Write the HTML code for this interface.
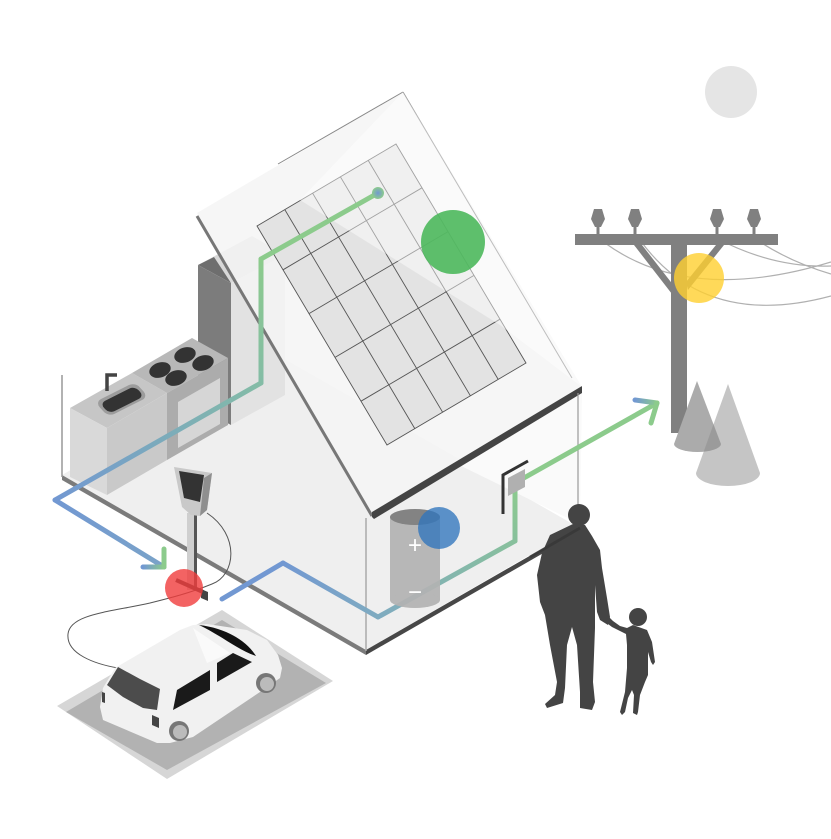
<!DOCTYPE html>
<html><head><meta charset="utf-8"><style>
html,body{margin:0;padding:0;background:#fff;}
svg{display:block;}
</style></head><body>
<svg width="831" height="839" viewBox="0 0 831 839" xmlns="http://www.w3.org/2000/svg">
<defs>
<linearGradient id="g1" gradientUnits="userSpaceOnUse" x1="261" y1="259" x2="261" y2="383"><stop offset="0" stop-color="#8ccb8c"/><stop offset="1" stop-color="#84bca6"/></linearGradient>
<linearGradient id="g2" gradientUnits="userSpaceOnUse" x1="261" y1="383" x2="55" y2="500"><stop offset="0" stop-color="#84bca6"/><stop offset="1" stop-color="#7298d2"/></linearGradient>
<linearGradient id="g3" gradientUnits="userSpaceOnUse" x1="55" y1="500" x2="164" y2="567"><stop offset="0" stop-color="#7298d2"/><stop offset="1" stop-color="#7aa3c8"/></linearGradient>
<linearGradient id="g4" gradientUnits="userSpaceOnUse" x1="143" y1="567" x2="164" y2="567"><stop offset="0" stop-color="#7298d2"/><stop offset="1" stop-color="#8ccb8c"/></linearGradient>
<linearGradient id="h1" gradientUnits="userSpaceOnUse" x1="283" y1="563" x2="378" y2="617"><stop offset="0" stop-color="#7298d2"/><stop offset="1" stop-color="#7fabc0"/></linearGradient>
<linearGradient id="h2" gradientUnits="userSpaceOnUse" x1="378" y1="617" x2="515" y2="541"><stop offset="0" stop-color="#7fabc0"/><stop offset="1" stop-color="#88c09c"/></linearGradient>
<linearGradient id="h3" gradientUnits="userSpaceOnUse" x1="515" y1="541" x2="515" y2="483"><stop offset="0" stop-color="#88c09c"/><stop offset="1" stop-color="#8ccb8c"/></linearGradient>
<linearGradient id="h4" gradientUnits="userSpaceOnUse" x1="657" y1="403" x2="635" y2="400"><stop offset="0" stop-color="#8ccb8c"/><stop offset="1" stop-color="#7298d2"/></linearGradient>
<radialGradient id="dot"><stop offset="0" stop-color="#7298d2"/><stop offset="1" stop-color="#8ccb8c"/></radialGradient>
</defs>
<rect width="831" height="839" fill="#fff"/>

<!-- moon -->
<circle cx="731" cy="92" r="26" fill="#e5e5e5"/>

<!-- power wires -->
<g fill="none" stroke="#b0b0b0" stroke-width="1.2">
<path d="M605,243 Q690,305 831,262"/>
<path d="M640,240 Q705,330 831,296"/>
<path d="M720,240 Q775,268 831,266"/>
<path d="M757,240 Q790,262 831,274"/>
</g>
<!-- pole -->
<g fill="#808080">
<rect x="575" y="234" width="203" height="11"/>
<rect x="671" y="240" width="16" height="193"/>
<path d="M634,245 L642,245 L674,286 L672,294 Z"/>
<path d="M716,245 L724,245 L688,290 L686,282 Z"/>
<path d="M594,209 L602,209 L605,219 L601,227 L595,227 L591,219 Z"/><rect x="596.5" y="226" width="3" height="9"/>
<path d="M631,209 L639,209 L642,219 L638,227 L632,227 L628,219 Z"/><rect x="633.5" y="226" width="3" height="9"/>
<path d="M713,209 L721,209 L724,219 L720,227 L714,227 L710,219 Z"/><rect x="715.5" y="226" width="3" height="9"/>
<path d="M750,209 L758,209 L761,219 L757,227 L751,227 L747,219 Z"/><rect x="752.5" y="226" width="3" height="9"/>
</g>
<circle cx="699" cy="278" r="25" fill="#ffcf30" opacity="0.8"/>
<!-- cones -->
<path d="M697,381 L674,444 A23.5,8 0 0 0 721,444 Z" fill="#ababab"/>
<path d="M728,384 L696,473 A32,13 0 0 0 760,473 Z" fill="#8c8c8c" opacity="0.5"/>

<!-- floor -->
<polygon points="62,475 274,353 578,527 366,650" fill="#efefef"/>
<polygon points="453,462 582,392 580,524" fill="#fafafa"/>
<polygon points="62,475 366,650 366,655 62,480" fill="#7b7b7b"/>
<polygon points="366,650 580,527 580,532 366,655" fill="#474747"/>
<line x1="62" y1="375" x2="62" y2="477" stroke="#999" stroke-width="1.5"/>

<!-- kitchen cabinet -->
<polygon points="198,265 231,283 231,425 198,407" fill="#7c7c7c"/>
<polygon points="198,265 252,236 285,255 231,283" fill="#d8d8d8"/>
<polygon points="198,265 214,257 231,283" fill="#6e6e6e"/>
<polygon points="231,283 285,255 285,395 231,425" fill="#e2e2e2"/>
<!-- counter -->
<polygon points="70,408 132,373 167,393 107,428" fill="#c6c6c6"/>
<polygon points="132,373 192,338 228,358 167,393" fill="#b8b8b8"/>
<polygon points="70,408 107,428 107,495 70,477" fill="#d9d9d9"/>
<polygon points="107,428 167,393 167,460 107,495" fill="#c9c9c9"/>
<polygon points="167,393 228,358 228,425 167,460" fill="#acacac"/>
<polygon points="178,402 220,378 220,424 178,448" fill="#d6d6d6"/>
<g transform="matrix(0.87,-0.435,0.667,0.744,95,402)">
<rect x="0" y="0" width="46" height="20" rx="7" fill="#9c9c9c"/>
<rect x="3" y="3.5" width="40" height="14" rx="6" fill="#333"/>
</g>
<path d="M107,391 L107,375 L117,375" fill="none" stroke="#444" stroke-width="3.5"/>
<g fill="#333">
<ellipse cx="160" cy="370" rx="11" ry="7.5" transform="rotate(-18 160 370)"/>
<ellipse cx="185" cy="355" rx="11" ry="7.5" transform="rotate(-18 185 355)"/>
<ellipse cx="176" cy="378" rx="11" ry="7.5" transform="rotate(-18 176 378)"/>
<ellipse cx="203" cy="363" rx="11" ry="7.5" transform="rotate(-18 203 363)"/>
</g>

<!-- roof -->
<polygon points="197,213 403,92 582,387 372,513" fill="#f4f4f4" opacity="0.85"/>
<line x1="278" y1="164" x2="403" y2="92" stroke="#888" stroke-width="1"/>
<line x1="403" y1="92" x2="572" y2="378" stroke="#888" stroke-width="1"/>
<line x1="197" y1="216" x2="372" y2="516" stroke="#777" stroke-width="3"/>
<polygon points="372,512 582,386 582,393 374,519 372,517" fill="#444"/>
<!-- solar grid -->
<g stroke="#555" stroke-width="0.9" fill="none">
<polygon points="257,226 396,144 526,363 387,445" fill="#e3e3e3"/>
<line x1="284.8" y1="209.6" x2="414.8" y2="428.6"/>
<line x1="312.6" y1="193.2" x2="442.6" y2="412.2"/>
<line x1="340.4" y1="176.8" x2="470.4" y2="395.8"/>
<line x1="368.2" y1="160.4" x2="498.2" y2="379.4"/>
<line x1="283" y1="269.8" x2="422" y2="187.8"/>
<line x1="309" y1="313.6" x2="448" y2="231.6"/>
<line x1="335" y1="357.4" x2="474" y2="275.4"/>
<line x1="361" y1="401.2" x2="500" y2="319.2"/>
</g>
<polygon points="300,200 403,92 582,387 500,325" fill="#fff" opacity="0.45"/>

<!-- walls -->
<line x1="366" y1="518" x2="366" y2="651" stroke="#aaa" stroke-width="1.5"/>
<line x1="578" y1="393" x2="578" y2="528" stroke="#999" stroke-width="1.2"/>

<!-- path 2 (floor) -->
<g fill="none" stroke-width="5" stroke-linecap="round">
<line x1="222" y1="599" x2="283" y2="563" stroke="#7298d2"/>
<line x1="283" y1="563" x2="378" y2="617" stroke="url(#h1)"/>
<line x1="378" y1="617" x2="515" y2="541" stroke="url(#h2)"/>
<line x1="515" y1="541" x2="515" y2="483" stroke="url(#h3)"/>
<line x1="515" y1="483" x2="657" y2="403" stroke="#8ccb8c"/>
<line x1="657" y1="403" x2="635" y2="400" stroke="url(#h4)"/>
<line x1="657" y1="403" x2="651" y2="423" stroke="#8ccb8c"/>
</g>

<!-- socket -->
<path d="M503,514 L503,475 L528,461" fill="none" stroke="#333" stroke-width="3"/>
<polygon points="508,478 525,469 525,487 508,496" fill="#b0b0b0"/>

<!-- battery -->
<g opacity="0.92">
<rect x="390" y="517" width="50" height="83" fill="#b3b3b3"/>
<ellipse cx="415" cy="600" rx="25" ry="8" fill="#b3b3b3"/>
<ellipse cx="415" cy="517" rx="25" ry="8" fill="#7a7a7a"/>
</g>
<text x="415" y="553" font-family="Liberation Sans, sans-serif" font-size="24" fill="#fff" text-anchor="middle">+</text>
<text x="415" y="600" font-family="Liberation Sans, sans-serif" font-size="24" fill="#fff" text-anchor="middle">−</text>
<circle cx="439" cy="528" r="21" fill="#2f74bd" opacity="0.78"/>

<!-- path 1 -->
<g fill="none" stroke-width="5" stroke-linecap="round">
<line x1="378" y1="193" x2="261" y2="259" stroke="#8ccb8c"/>
<line x1="261" y1="259" x2="261" y2="383" stroke="url(#g1)"/>
<line x1="261" y1="383" x2="55" y2="500" stroke="url(#g2)"/>
<line x1="55" y1="500" x2="164" y2="567" stroke="url(#g3)"/>
<line x1="143" y1="567" x2="164" y2="567" stroke="url(#g4)"/>
<line x1="164" y1="549" x2="164" y2="567" stroke="#8ccb8c"/>
</g>
<circle cx="378" cy="193" r="6" fill="url(#dot)"/>

<!-- charger -->
<path d="M207,513 C240,535 236,575 212,584 C190,593 170,598 150,603 C110,612 70,614 68,634 C66,654 95,664 118,668" fill="none" stroke="#555" stroke-width="1"/>
<rect x="187" y="513" width="10" height="77" fill="#cfcfcf"/>
<rect x="194" y="513" width="3" height="77" fill="#555"/>
<path d="M174,467 L212,473 L207,510 L200,516 L191,515 L182,507 Z" fill="#c9c9c9"/>
<path d="M212,473 L207,510 L200,516 L204,478 Z" fill="#8f8f8f"/>
<path d="M179,471 L204,475 L200,502 L184,498 Z" fill="#333"/>
<path d="M176,580 L203,592" stroke="#444" stroke-width="4"/>
<polygon points="201,589 208,592 208,601 201,598" fill="#444"/>
<circle cx="184" cy="588" r="19" fill="#f03c3c" opacity="0.8"/>

<!-- parking pad -->
<polygon points="57,706 222,610 333,681 167,779" fill="#d6d6d6"/>
<polygon points="66,712 222,620 326,683 167,770" fill="#b2b2b2"/>
<!-- car -->
<path d="M103,688 L115,668 L180,630 L193,625 L207,624 L247,630 L267,640 L278,655 L282,668 L280,678 L260,692 L193,737 L170,743 L157,743 L103,720 L100,707 Z" fill="#f1f1f1"/>
<path d="M193,628 L230,653 L207,663 Z" fill="#fafafa"/>
<path d="M118,667 L140,679 L160,689 L157,710 L143,708 L123,697 L107,685 Z" fill="#4c4c4c"/>
<path d="M177,690 L210,670 L210,690 L173,710 Z" fill="#1a1a1a"/>
<path d="M217,663 L233,653 L252,662 L217,682 Z" fill="#1a1a1a"/>
<path d="M199,625 C225,628 246,640 256,656 C238,650 222,636 199,625 Z" fill="#111"/>
<path d="M152,715 L159,718 L159,728 L152,725 Z" fill="#444"/>
<path d="M102,692 L105,693 L105,703 L102,702 Z" fill="#444"/>
<circle cx="179" cy="731" r="10" fill="#777"/><circle cx="180" cy="732" r="7" fill="#bbb"/>
<circle cx="266" cy="683" r="10" fill="#777"/><circle cx="267" cy="684" r="7" fill="#bbb"/>

<!-- people -->
<g fill="#444">
<circle cx="579" cy="515" r="11"/>
<path d="M573,524 L585,525 L592,536 L600,550 L602,568 L607,598 L610,617 L608,625 L600,620 L597,612 L595,585 L595,608 L595,628 L593,682 L595,702 L592,710 L580,708 L580,692 L577,645 L572,627 L567,645 L565,688 L563,703 L547,708 L545,704 L555,695 L557,682 L550,645 L545,615 L540,602 L537,575 L542,553 L550,535 Z"/>
<circle cx="638" cy="617" r="9"/>
<path d="M633,625 L647,630 L652,642 L655,662 L653,665 L651,662 L648,652 L648,675 L645,682 L640,695 L638,712 L637,715 L633,713 L634,695 L632,690 L628,698 L625,712 L622,715 L620,712 L625,692 L627,668 L627,645 L626,634 L620,631 L612,627 L604,621 L607,615 L613,621 L620,626 L627,628 Z"/>
</g>
<line x1="530" y1="557" x2="580" y2="528" stroke="#333" stroke-width="3" opacity="0.6"/>

<!-- green circle -->
<circle cx="453" cy="242" r="32" fill="#4cb85c" opacity="0.9"/>
</svg>
</body></html>
